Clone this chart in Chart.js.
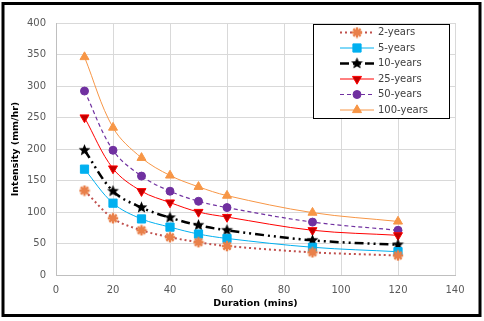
<!DOCTYPE html>
<html>
<head>
<meta charset="utf-8">
<script src="https://cdn.jsdelivr.net/npm/chart.js@4"></script>
<style>
  html, body { margin: 0; padding: 0; background: #fff; }
</style>
</head>
<body>
<canvas id="idfChart" width="484" height="321"></canvas>
<script>
// IDF curve values
const durations = [10, 20, 30, 40, 50, 60, 90, 120];
const seriesNames = ['2-years', '5-years', '10-years', '25-years', '50-years', '100-years'];
const y2 = [134, 90, 71, 60, 52, 46, 36, 31];
const y5 = [168, 114, 89, 76, 65, 58, 44, 37];
const y10 = [198, 133, 107, 91, 79, 71, 55, 48];
const y25 = [250, 169, 133, 115, 100, 92, 71, 63];
const y50 = [292, 198, 157, 133, 117, 107, 84, 71];
const y100 = [346, 234, 186, 158, 140, 126, 99, 85];
const xTicks = [0, 20, 40, 60, 80, 100, 120, 140];
const yTicks = [0, 50, 100, 150, 200, 250, 300, 350, 400];

function makeStar(size, color) {
    const c = document.createElement('canvas');
    c.width = size;
    c.height = size;
    const g = c.getContext('2d');
    const cx = size / 2, cy = size / 2, ro = size / 2 - 0.3, ri = ro * 0.45;
    g.beginPath();
    for (let i = 0; i < 10; i++) {
        const r = i % 2 ? ri : ro;
        const a = -Math.PI / 2 + i * Math.PI / 5;
        g.lineTo(cx + r * Math.cos(a), cy + r * Math.sin(a));
    }
    g.closePath();
    g.fillStyle = color;
    g.fill();
    return c;
}

// spreadsheet style "*" marker
function makeAsterisk(size, color) {
    const c = document.createElement('canvas');
    c.width = size;
    c.height = size;
    const g = c.getContext('2d');
    const m = size / 2, r = size / 2 - 0.8;
    g.strokeStyle = color;
    g.lineWidth = 2.4;
    g.beginPath();
    for (let i = 0; i < 4; i++) {
        const a = i * Math.PI / 4;
        g.moveTo(m - r * Math.cos(a), m - r * Math.sin(a));
        g.lineTo(m + r * Math.cos(a), m + r * Math.sin(a));
    }
    g.stroke();
    return c;
}

const pts = vals => vals.map((v, i) => ({ x: durations[i], y: v }));

const datasets = [
    { label: seriesNames[0], data: pts(y2), borderColor: '#C0504D', borderWidth: 2, borderDash: [2, 3],
      pointStyle: makeAsterisk(12, '#E9804A'), pointRadius: 6, pointBorderColor: '#E9804A', pointBackgroundColor: '#E9804A', pointBorderWidth: 0 },
    { label: seriesNames[1], data: pts(y5), borderColor: '#00B0F0', borderWidth: 1,
      pointStyle: 'rect', pointRadius: 5.8, pointBorderColor: '#00B0F0', pointBackgroundColor: '#00B0F0', pointBorderWidth: 1 },
    { label: seriesNames[2], data: pts(y10), borderColor: '#000000', borderWidth: 2.5, borderDash: [9, 4, 2, 4, 2, 4],
      pointStyle: makeStar(13, '#000'), pointRadius: 6, pointBorderColor: '#000', pointBackgroundColor: '#000', pointBorderWidth: 0 },
    { label: seriesNames[3], data: pts(y25), borderColor: '#FF0000', borderWidth: 1,
      pointStyle: 'triangle', pointRotation: 180, pointRadius: 5.2, pointBorderColor: '#FF0000', pointBackgroundColor: '#C00000', pointBorderWidth: 1 },
    { label: seriesNames[4], data: pts(y50), borderColor: '#7030A0', borderWidth: 1.2, borderDash: [4, 3],
      pointStyle: 'circle', pointRadius: 4, pointBorderColor: '#7030A0', pointBackgroundColor: '#7030A0', pointBorderWidth: 1 },
    { label: seriesNames[5], data: pts(y100), borderColor: '#F79646', borderWidth: 1,
      pointStyle: 'triangle', pointRadius: 5.2, pointBorderColor: '#F79646', pointBackgroundColor: '#F79646', pointBorderWidth: 1 }
];
datasets.forEach(d => { d.tension = 0.35; d.fill = false; });

// boxed legend with line sample + marker, like the spreadsheet one
const boxLegend = {
    id: 'boxLegend',
    afterDraw(chart) {
        const ctx = chart.ctx;
        ctx.save();
        ctx.fillStyle = '#fff';
        ctx.fillRect(313.5, 24.5, 136, 94);
        ctx.strokeStyle = '#000';
        ctx.lineWidth = 1;
        ctx.strokeRect(313.5, 24.5, 136, 94);
        chart.data.datasets.forEach((ds, i) => {
            const y = 32.5 + i * 15.5;
            ctx.beginPath();
            ctx.setLineDash(ds.borderDash || []);
            ctx.strokeStyle = ds.borderColor;
            ctx.lineWidth = ds.borderWidth;
            ctx.moveTo(340, y);
            ctx.lineTo(374, y);
            ctx.stroke();
            ctx.setLineDash([]);
            ctx.fillStyle = ds.pointBackgroundColor;
            ctx.strokeStyle = ds.pointBorderColor;
            ctx.lineWidth = ds.pointBorderWidth;
            Chart.helpers.drawPoint(ctx, {
                pointStyle: ds.pointStyle, rotation: ds.pointRotation || 0,
                radius: ds.pointRadius, borderWidth: ds.pointBorderWidth
            }, 357, y);
            ctx.fillStyle = '#404040';
            ctx.font = '10px "DejaVu Sans"';
            ctx.textBaseline = 'middle';
            ctx.textAlign = 'left';
            ctx.fillText(ds.label, 378, y);
        });
        // outer frame
        ctx.strokeStyle = '#000';
        ctx.lineWidth = 3;
        ctx.strokeRect(3, 3.5, 477, 312);
        ctx.restore();
    }
};

const tickFont = { family: 'DejaVu Sans', size: 10 };
const titleFont = { family: 'DejaVu Sans', size: 9.5, weight: 'bold' };

new Chart(document.getElementById('idfChart'), {
    type: 'line',
    data: { datasets: datasets },
    options: {
        responsive: false,
        animation: false,
        layout: { padding: { left: 6, right: 29, top: 23, bottom: 12 } },
        plugins: { legend: { display: false }, tooltip: { enabled: false } },
        scales: {
            x: {
                type: 'linear', min: 0, max: 140,
                afterBuildTicks: s => { s.ticks = xTicks.map(v => ({ value: v })); },
                afterFit: s => { s.height = 34; },
                ticks: { font: tickFont, color: '#595959', padding: 9, maxRotation: 0 },
                grid: { color: '#D9D9D9', drawTicks: false },
                border: { color: '#BFBFBF' },
                title: { display: true, text: 'Duration (mins)', font: titleFont, color: '#000', padding: { top: 2, bottom: 0 } }
            },
            y: {
                min: 0, max: 400,
                afterBuildTicks: s => { s.ticks = yTicks.map(v => ({ value: v })); },
                afterFit: s => { s.width = 50; },
                ticks: { font: tickFont, color: '#595959', padding: 10 },
                grid: { color: '#D9D9D9', drawTicks: false },
                border: { color: '#BFBFBF' },
                title: { display: true, text: 'Intensity (mm/hr)', font: titleFont, color: '#000', padding: { top: 4, bottom: 0 } }
            }
        }
    },
    plugins: [boxLegend]
});
</script>
</body>
</html>
